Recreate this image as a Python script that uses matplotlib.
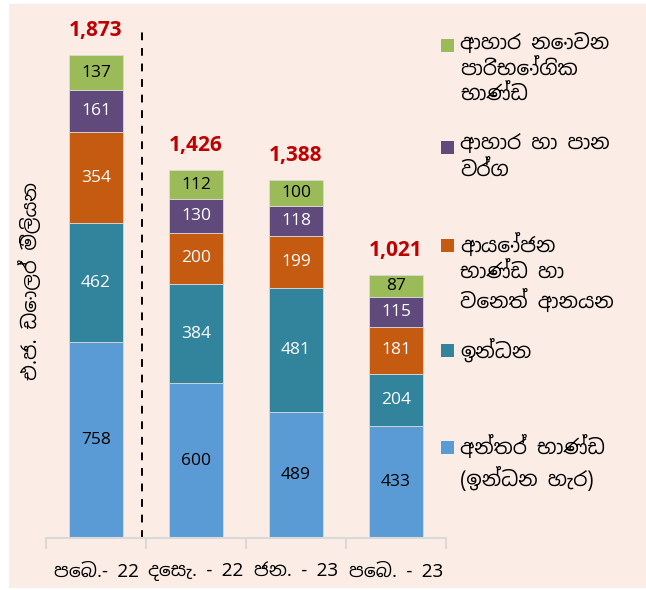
import matplotlib
matplotlib.use('Agg')
import matplotlib.pyplot as plt
from matplotlib import font_manager
from matplotlib.patches import Rectangle

# data
categories = ['පෙබ.- 22', 'දෙසැ. - 22', 'ජන. - 23', 'පෙබ. - 23']
intermediate = [758, 600, 489, 433]
fuel = [462, 384, 481, 204]
investment = [354, 200, 199, 181]
food = [161, 130, 118, 115]
non_food = [137, 112, 100, 87]
totals = [1873, 1426, 1388, 1021]

series = [intermediate, fuel, investment, food, non_food]
colors = ['#5B9BD5', '#31849B', '#C55A11', '#604A7B', '#9BBB59']
text_colors = ['black', 'white', 'white', 'white', 'black']
legend_labels = [
    'අන්තර් භාණ්ඩ\n(ඉන්ධන හැර)',
    'ඉන්ධන',
    'ආයෝජන\nභාණ්ඩ හා\nවෙනත් ආනයන',
    'ආහාර හා පාන\nවර්ග',
    'ආහාර නොවන\nපාරිභෝගික\nභාණ්ඩ',
]
y_label = 'එ.ජ. ඩොලර් මිලියන'

# pick a Sinhala-capable font if one is installed
installed = {f.name for f in font_manager.fontManager.ttflist}
families = [f for f in ['Noto Sans Sinhala', 'Noto Serif Sinhala', 'Iskoola Pota',
                        'Open Sans', 'DejaVu Sans'] if f in installed]
plt.rcParams['font.family'] = families
num_font = ['Open Sans', 'DejaVu Sans']

bg = '#FBEDE5'
fig = plt.figure(figsize=(6.46, 5.90), dpi=100, facecolor='white')
fig.patches.append(Rectangle((9 / 646, 2 / 590), 637 / 646, 584 / 590,
                             transform=fig.transFigure, facecolor=bg,
                             edgecolor='none', zorder=-10))

ax = fig.add_axes([46 / 646, 52 / 590, 400 / 646, 516 / 590])
ax.set_facecolor('none')

x = list(range(len(categories)))
bottom = [0] * len(categories)
for vals, col, tc in zip(series, colors, text_colors):
    ax.bar(x, vals, width=0.54, bottom=bottom, color=col,
           edgecolor='#D9D9D9', linewidth=0.6)
    for i, v in enumerate(vals):
        ax.text(x[i], bottom[i] + v / 2, f'{v}', ha='center', va='center',
                color=tc, fontsize=12.5, family=num_font)
    bottom = [b + v for b, v in zip(bottom, vals)]

for i, t in enumerate(totals):
    ax.text(x[i], bottom[i] + 55, f'{t:,}', ha='center', va='bottom',
            color='#C00000', fontsize=15, fontweight='bold', family=num_font)

ax.axvline(0.46, ymin=0, ymax=0.99, color='black', linestyle=(0, (4, 4)),
           linewidth=1.4)

ax.set_xlim(-0.5, 3.5)
ax.set_ylim(0, 2000)
for s in ['top', 'right', 'left']:
    ax.spines[s].set_visible(False)
ax.spines['bottom'].set_color('#D9D9D9')
ax.spines['bottom'].set_linewidth(1.5)
ax.set_yticks([])
ax.set_xticks([-0.5, 0.5, 1.5, 2.5, 3.5])
ax.set_xticklabels([])
ax.tick_params(axis='x', length=8, width=1.5, color='#D9D9D9')
for i, c in enumerate(categories):
    ax.text(x[i], -130, c, ha='center', va='center', fontsize=13.5)

fig.text(31 / 646, 1 - 281 / 590, y_label, rotation=90, ha='center',
         va='center', fontsize=14)

# legend drawn by hand, top entry first
legend_y = [447, 350, 245, 147, 45]
for lab, col, ly in zip(legend_labels, colors, legend_y):
    fig.patches.append(Rectangle((441 / 646, 1 - (ly + 7) / 590), 13 / 646, 13 / 590,
                                 transform=fig.transFigure, facecolor=col,
                                 edgecolor='none'))
    fig.text(460 / 646, 1 - (ly - 12) / 590, lab, ha='left', va='top',
             fontsize=14.5, linespacing=1.35)

fig.savefig('out.png', dpi=100, facecolor=fig.get_facecolor())
